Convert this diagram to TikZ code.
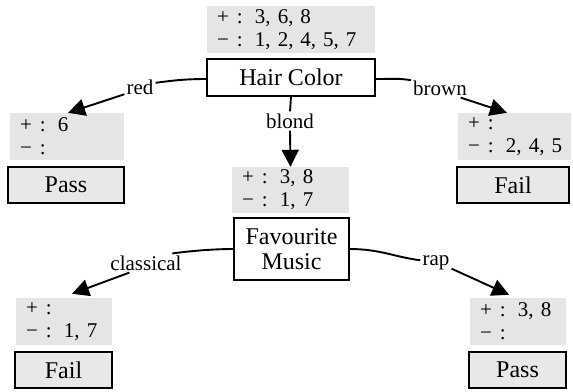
\documentclass[tikz,border=0pt]{standalone}
\usepackage{fontspec}
\setmainfont{Liberation Serif}
\usetikzlibrary{arrows.meta,calc}
\newcommand\pmrows[2]{\makebox[26pt][l]{\hspace{6pt}+}\makebox[18pt][l]{:}#1\\\makebox[26pt][l]{\hspace{6pt}−}\makebox[18pt][l]{:}#2}
\begin{document}
\begin{tikzpicture}[x=1pt,y=-1pt,
  setbox/.style={fill=black!10, inner xsep=4pt, inner ysep=0pt, align=left,
    minimum height=47pt, font=\fontsize{21}{23}\selectfont},
  dbox/.style={draw, line width=1.9pt, inner sep=0pt, align=center,
    font=\fontsize{24}{25}\selectfont},
  innerbox/.style={dbox, fill=white},
  leafbox/.style={dbox, fill=black!9},
  lab/.style={inner sep=2pt, font=\fontsize{21}{24}\selectfont},
  edge/.style={line width=1.9pt},
  arr/.style={line width=1.9pt, -{Triangle[length=17pt,width=17pt]}}]
\useasboundingbox (0,0) rectangle (573,391);

% root
\node[setbox, text width=160pt] (g0) at (291,29.5) {\pmrows{3, 6, 8}{1, 2, 4, 5, 7}};
\node[innerbox, minimum width=168pt, minimum height=37pt] (n0) at (291,77.5) {Hair Color};

% left leaf
\node[setbox, text width=106pt] (g1) at (67,136.5) {\pmrows{6}{}};
\node[leafbox, minimum width=116pt, minimum height=36pt] (n1) at (66,185) {Pass};

% right leaf
\node[setbox, text width=105pt] (g2) at (514.5,136.5) {\pmrows{}{2, 4, 5}};
\node[leafbox, minimum width=112pt, minimum height=36pt] (n2) at (513,185) {Fail};

% middle
\node[setbox, text width=109pt, minimum height=46pt] (g3) at (290.5,190) {\pmrows{3, 8}{1, 7}};
\node[innerbox, minimum width=115pt, minimum height=62pt] (n3) at (291.5,249) {Favourite\\Music};

% bottom left leaf
\node[setbox, text width=88pt] (g4) at (64,321.5) {\pmrows{}{1, 7}};
\node[leafbox, minimum width=97pt, minimum height=36pt] (n4) at (63.5,370) {Fail};

% bottom right leaf
\node[setbox, text width=88pt] (g5) at (518,321.5) {\pmrows{3, 8}{}};
\node[leafbox, minimum width=97pt, minimum height=36pt] (n5) at (517.5,370) {Pass};

% edge labels
\node[lab] (lred) at (140,87) {red};
\node[lab] (lbrown) at (440,88) {brown};
\node[lab] (lblond) at (290,121) {blond};
\node[lab] (lclass) at (146,263) {classical};
\node[lab] (lrap) at (436,263) {rap};

% edges
\draw[edge] ($(n0.west)+(0,1.5)$) .. controls +(-22,0) and +(15,-2) .. (lred.15);
\draw[arr] (lred.205) -- ($(g1.north)+(1,0)$);

\draw[edge] ($(n0.east)+(0,1.5)$) .. controls +(18,0) and +(-12,-2) .. (lbrown.165);
\draw[arr] (lbrown.-25) -- ($(g2.north)+(-7.5,0)$);

\draw[edge] (n0.south) -- (lblond.north);
\draw[arr] (lblond.south) -- (g3.north);

\draw[edge] (n3.west) .. controls +(-22,0) and +(15,-2) .. (lclass.20);
\draw[arr] (lclass.210) -- ($(g4.north)+(8,-4)$);

\draw[edge] (n3.east) .. controls +(30,0) and +(-25,-3) .. (lrap.170);
\draw[arr] (lrap.-20) -- ($(g5.north)+(-9,-3)$);
\end{tikzpicture}
\end{document}
